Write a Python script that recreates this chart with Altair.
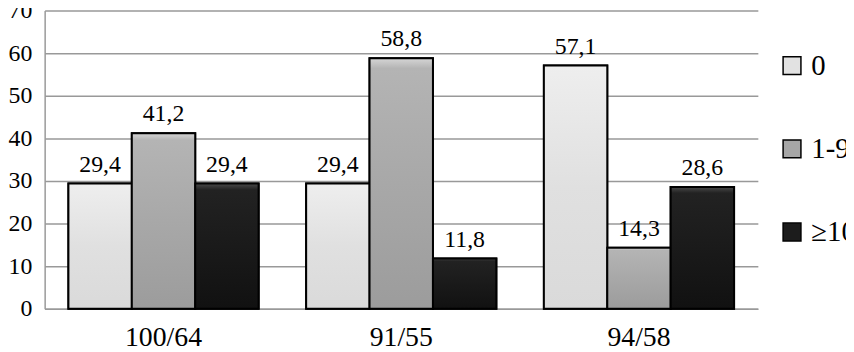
import altair as alt
import pandas as pd

groups = ["100/64", "91/55", "94/58"]
series = ["0", "1-9", "≥10"]
values_0 = [29.4, 29.4, 57.1]
values_1_9 = [41.2, 58.8, 14.3]
values_10 = [29.4, 11.8, 28.6]
colors = ["#e2e2e2", "#a6a6a6", "#1c1c1c"]

rows = []
for i, g in enumerate(groups):
    for s, vals in zip(series, [values_0, values_1_9, values_10]):
        rows.append({"group": g, "series": s, "value": vals[i],
                     "label": f"{vals[i]:.1f}".replace(".", ",")})
df = pd.DataFrame(rows)

FONT = "Liberation Serif"

x = alt.X("group:N", sort=groups, title=None,
          scale=alt.Scale(paddingInner=0.2, paddingOuter=0.1),
          axis=alt.Axis(labelFont=FONT, labelFontSize=28, labelColor="black",
                        labelAngle=0, ticks=False, domainColor="#999999",
                        domainWidth=1.5, labelPadding=15))
xo = alt.XOffset("series:N", sort=series, scale=alt.Scale(paddingInner=0))
y = alt.Y("value:Q", title=None, scale=alt.Scale(domain=[0, 70]),
          axis=alt.Axis(values=list(range(0, 71, 10)), labelFont=FONT,
                        labelFontSize=24, labelColor="black", ticks=False,
                        domainColor="#999999", domainWidth=1.5,
                        gridColor="#999999", gridWidth=1.5, labelPadding=13))

base = alt.Chart(df)

bars = base.mark_bar(stroke="black", strokeWidth=2).encode(
    x=x, xOffset=xo, y=y,
    color=alt.Color("series:N", sort=series, title=None,
                    scale=alt.Scale(domain=series, range=colors),
                    legend=alt.Legend(orient="none", legendX=740, legendY=41,
                                      labelFont=FONT, labelFontSize=29,
                                      labelColor="black", symbolType="square",
                                      symbolSize=324, symbolStrokeColor="black",
                                      symbolStrokeWidth=1.5, rowPadding=54,
                                      labelOffset=5)),
)

grads = {
    "0": [("#eeeeee", 0), ("#e0e0e0", 0.5), ("#dadada", 1)],
    "1-9": [("#d6d6d6", 0), ("#b4b4b4", 0.04), ("#a8a8a8", 0.5), ("#9c9c9c", 1)],
    "≥10": [("#4a4a4a", 0), ("#222222", 0.05), ("#1a1a1a", 0.5), ("#111111", 1)],
}
overlays = []
for s in series:
    g = alt.Gradient(gradient="linear", x1=0, y1=0, x2=0, y2=1,
                     stops=[alt.GradientStop(color=c, offset=o) for c, o in grads[s]])
    overlays.append(
        base.transform_filter(alt.datum.series == s)
        .mark_bar(color=g, stroke="black", strokeWidth=2)
        .encode(x=x, xOffset=xo, y=y)
    )

text = base.mark_text(font=FONT, fontSize=24, color="black",
                      baseline="alphabetic", dy=-12).encode(
    x=x, xOffset=xo, y="value:Q", text="label:N")

chart = alt.layer(bars, *overlays, text).properties(
    width=720, height=301,
    autosize=alt.AutoSizeParams(type="none"),
    padding={"left": 37, "top": 1, "right": 89, "bottom": 42},
).configure_view(stroke=None)

chart.save("out.html", embed_options={"renderer": "svg", "actions": False})
